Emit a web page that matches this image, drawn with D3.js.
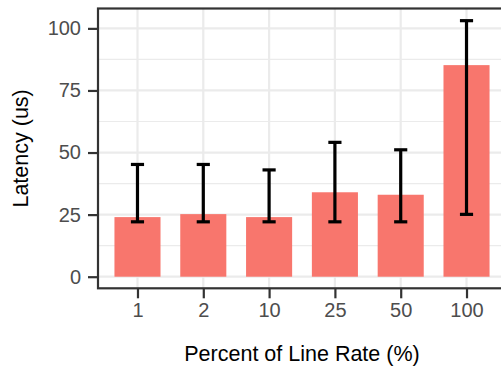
<!DOCTYPE html>
<html>
<head>
<meta charset="utf-8">
<script src="https://cdn.jsdelivr.net/npm/d3@7"></script>
<style>
  body { margin: 0; background: #fff; }
  text { font-family: "Liberation Sans", Arial, sans-serif; }
</style>
</head>
<body>
<script>
// data
var rates = ["1", "2", "10", "25", "50", "100"];
var latency = [24, 25.2, 24, 34, 33, 85.2];
var errLow = [22.1, 22.1, 22.1, 22.1, 22.1, 25.1];
var errHigh = [45.2, 45.2, 43, 54.1, 51.1, 103.1];
var yTicks = [0, 25, 50, 75, 100];
var yMinor = [12.5, 37.5, 62.5, 87.5];

var width = 501, height = 367;
var panel = {left: 98, top: 8.5, right: 506, bottom: 288.3};

var svg = d3.select("body")
    .append("svg")
    .attr("width", width)
    .attr("height", height);

var x = d3.scalePoint()
    .domain(rates)
    .range([panel.left, panel.right])
    .padding(0.6);

var y = d3.scaleLinear()
    .domain([-4.67, 108])
    .range([panel.bottom, panel.top]);

var step = x.step();

// panel background
svg.append("rect")
    .attr("x", panel.left).attr("y", panel.top)
    .attr("width", panel.right - panel.left)
    .attr("height", panel.bottom - panel.top)
    .attr("fill", "#fff");

// grid lines
svg.selectAll(".minor")
    .data(yMinor)
    .enter().append("line")
    .attr("x1", panel.left).attr("x2", panel.right)
    .attr("y1", d => y(d)).attr("y2", d => y(d))
    .attr("stroke", "#ebebeb")
    .attr("stroke-width", 1.1);

svg.selectAll(".major")
    .data(yTicks)
    .enter().append("line")
    .attr("x1", panel.left).attr("x2", panel.right)
    .attr("y1", d => y(d)).attr("y2", d => y(d))
    .attr("stroke", "#ebebeb")
    .attr("stroke-width", 2.2);

svg.selectAll(".vgrid")
    .data(rates)
    .enter().append("line")
    .attr("x1", d => x(d)).attr("x2", d => x(d))
    .attr("y1", panel.top).attr("y2", panel.bottom)
    .attr("stroke", "#ebebeb")
    .attr("stroke-width", 2.2);

// bars
svg.selectAll(".bar")
    .data(rates)
    .enter().append("rect")
    .attr("x", d => x(d) - step * 0.35)
    .attr("width", step * 0.7)
    .attr("y", (d, i) => y(latency[i]))
    .attr("height", (d, i) => y(0) - y(latency[i]))
    .attr("fill", "#F8766D");

// error bars
var capW = step * 0.2;
var eb = svg.selectAll(".err")
    .data(rates)
    .enter().append("g")
    .attr("stroke", "#000")
    .attr("stroke-width", 3.2)
    .attr("fill", "none");

eb.append("line")
    .attr("x1", d => x(d)).attr("x2", d => x(d))
    .attr("y1", (d, i) => y(errLow[i])).attr("y2", (d, i) => y(errHigh[i]));
eb.append("line")
    .attr("x1", d => x(d) - capW / 2).attr("x2", d => x(d) + capW / 2)
    .attr("y1", (d, i) => y(errLow[i])).attr("y2", (d, i) => y(errLow[i]));
eb.append("line")
    .attr("x1", d => x(d) - capW / 2).attr("x2", d => x(d) + capW / 2)
    .attr("y1", (d, i) => y(errHigh[i])).attr("y2", (d, i) => y(errHigh[i]));

// panel border
svg.append("rect")
    .attr("x", panel.left).attr("y", panel.top)
    .attr("width", panel.right - panel.left)
    .attr("height", panel.bottom - panel.top)
    .attr("fill", "none")
    .attr("stroke", "#333333")
    .attr("stroke-width", 2.2);

// axes
var yAxis = svg.append("g")
    .attr("transform", "translate(" + panel.left + ",0)")
    .call(d3.axisLeft(y).tickValues(yTicks).tickSize(10).tickPadding(7));
var xAxis = svg.append("g")
    .attr("transform", "translate(0," + panel.bottom + ")")
    .call(d3.axisBottom(x).tickSize(10).tickPadding(5));

[yAxis, xAxis].forEach(function (g) {
    g.select(".domain").remove();
    g.selectAll(".tick line").attr("stroke", "#333333").attr("stroke-width", 2.2);
    g.selectAll(".tick text")
        .attr("fill", "#4D4D4D")
        .style("font-size", "20px")
        .style("font-family", "Liberation Sans, Arial, sans-serif");
});

// axis titles
svg.append("text")
    .attr("x", (panel.left + panel.right) / 2)
    .attr("y", 361)
    .attr("text-anchor", "middle")
    .style("font-size", "21.5px")
    .attr("fill", "#000")
    .text("Percent of Line Rate (%)");

svg.append("text")
    .attr("transform", "translate(28," + ((panel.top + panel.bottom) / 2) + ") rotate(-90)")
    .attr("text-anchor", "middle")
    .style("font-size", "21.5px")
    .attr("fill", "#000")
    .text("Latency (us)");
</script>
</body>
</html>
